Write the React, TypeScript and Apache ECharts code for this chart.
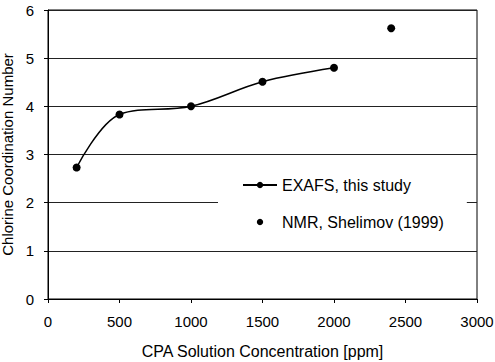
import React, { useEffect, useRef } from "react";
import * as echarts from "echarts";

const exafsX = [200, 500, 1000, 1500, 2000];
const exafsY = [2.73, 3.83, 4.0, 4.51, 4.8];
const nmrX = [2400];
const nmrY = [5.62];
const seriesNames = ["EXAFS, this study", "NMR, Shelimov (1999)"];
const xTitle = "CPA Solution Concentration [ppm]";
const yTitle = "Chlorine Coordination Number";

const FONT = 'Arial, "Liberation Sans", sans-serif';

export default function App() {
  const ref = useRef<HTMLDivElement>(null);
  useEffect(() => {
    if (!ref.current) return;
    const chart = echarts.init(ref.current, undefined, { renderer: "svg" });
    chart.setOption({
      animation: false,
      backgroundColor: "#ffffff",
      grid: {
        left: 48,
        right: 18,
        top: 10,
        bottom: 63,
        containLabel: false,
        outerBoundsMode: "none",
        show: true,
        borderColor: "#000",
        borderWidth: 1,
      },
      legend: {
        orient: "vertical",
        left: 218,
        top: 157,
        padding: [20, 23, 19, 24],
        backgroundColor: "#ffffff",
        itemWidth: 34,
        itemHeight: 8,
        itemGap: 21,
        textStyle: { fontFamily: FONT, fontSize: 16, color: "#000" },
        data: seriesNames,
      },
      xAxis: {
        type: "value",
        min: 0,
        max: 3000,
        interval: 500,
        name: xTitle,
        nameLocation: "middle",
        nameGap: 44,
        nameTextStyle: { fontFamily: FONT, fontSize: 16, color: "#000" },
        axisLine: { show: true, lineStyle: { color: "#000", width: 1 } },
        axisTick: { show: true, inside: false, length: 4, lineStyle: { color: "#000" } },
        axisLabel: {
          fontFamily: FONT,
          fontSize: 15,
          color: "#000",
          margin: 15,
          formatter: (v: number) => String(v),
        },
        splitLine: { show: false },
      },
      yAxis: {
        type: "value",
        min: 0,
        max: 6,
        interval: 1,
        name: yTitle,
        nameLocation: "middle",
        nameGap: 26,
        nameTextStyle: { fontFamily: FONT, fontSize: 15, color: "#000" },
        axisLine: { show: true, lineStyle: { color: "#000", width: 1 } },
        axisTick: { show: true, inside: false, length: 4, lineStyle: { color: "#000" } },
        axisLabel: { fontFamily: FONT, fontSize: 15, color: "#000", margin: 14 },
        splitLine: { show: true, lineStyle: { color: "#222", width: 1 } },
      },
      series: [
        {
          name: seriesNames[0],
          type: "line",
          data: exafsX.map((x, i) => [x, exafsY[i]]),
          smooth: 0.35,
          symbol: "circle",
          symbolSize: 8,
          lineStyle: { color: "#000", width: 1.5 },
          itemStyle: { color: "#000" },
        },
        {
          name: seriesNames[1],
          type: "line",
          data: nmrX.map((x, i) => [x, nmrY[i]]),
          symbol: "circle",
          symbolSize: 8,
          lineStyle: { color: "#000", width: 0, opacity: 0 },
          itemStyle: { color: "#000" },
        },
      ],
    });
    return () => chart.dispose();
  }, []);
  return <div ref={ref} style={{ width: 495, height: 362, position: "absolute", left: 0, top: 0 }} />;
}
